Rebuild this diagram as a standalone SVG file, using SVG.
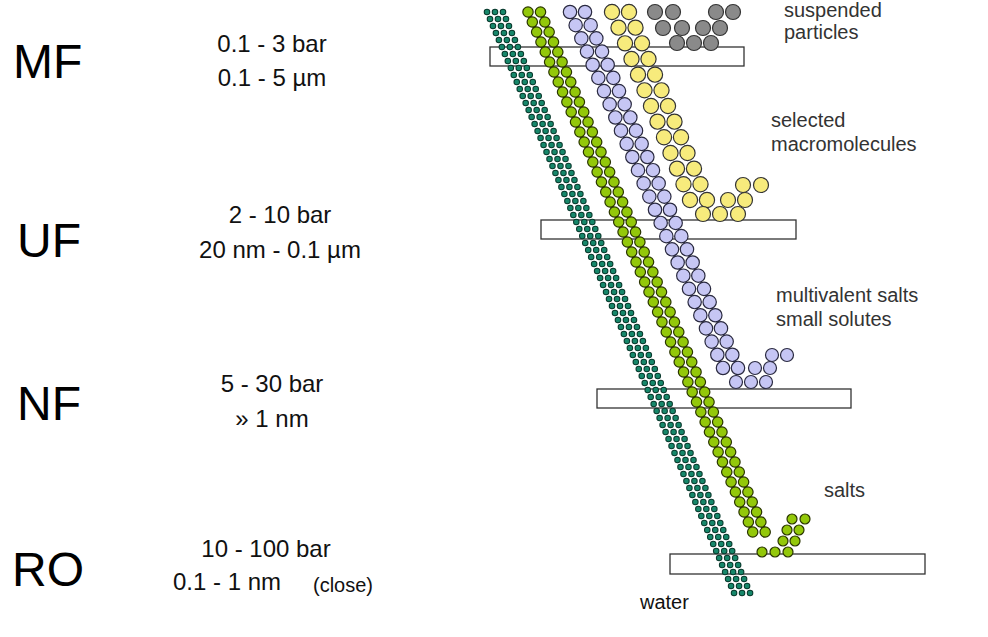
<svg xmlns="http://www.w3.org/2000/svg" width="988" height="637" viewBox="0 0 988 637">
<style>
.big{font-family:"Liberation Sans",Arial,sans-serif;font-size:48px;fill:#000}
.mid{font-family:"Liberation Sans",Arial,sans-serif;font-size:24px;fill:#111;text-anchor:middle}
.lab{font-family:"Liberation Sans",Arial,sans-serif;font-size:20px;fill:#333}
.mem{fill:#fff;stroke:#333;stroke-width:1.3}
.d{stroke-linecap:round;fill:none}
</style>
<rect width="988" height="637" fill="#fff"/>
<g id="labels">
<text class="big" x="13" y="78">MF</text>
<text class="big" x="17" y="257">UF</text>
<text class="big" x="17" y="420">NF</text>
<text class="big" x="12" y="586">RO</text>
<text class="mid" x="272" y="52">0.1 - 3 bar</text>
<text class="mid" x="272" y="86">0.1 - 5 µm</text>
<text class="mid" x="280" y="223">2 - 10 bar</text>
<text class="mid" x="280" y="258">20 nm - 0.1 µm</text>
<text class="mid" x="272" y="392">5 - 30 bar</text>
<text class="mid" x="272" y="427">» 1 nm</text>
<text class="mid" x="266" y="557">10 - 100 bar</text>
<text x="173" y="590" style="font-family:'Liberation Sans',Arial,sans-serif;font-size:24px;fill:#111">0.1 - 1 nm</text>
<text x="313" y="592" style="font-family:'Liberation Sans',Arial,sans-serif;font-size:20px;fill:#111">(close)</text>
<text class="lab" x="784" y="17">suspended</text>
<text class="lab" x="784" y="39">particles</text>
<text class="lab" x="771" y="127">selected</text>
<text class="lab" x="771" y="151">macromolecules</text>
<text class="lab" x="776" y="302">multivalent salts</text>
<text class="lab" x="776" y="326">small solutes</text>
<text class="lab" x="824" y="497">salts</text>
<text class="lab" x="640" y="609" style="fill:#111">water</text>
</g>
<g id="membranes">
<rect class="mem" x="490" y="47" width="254" height="19"/>
<rect class="mem" x="541" y="220" width="255" height="19"/>
<rect class="mem" x="597" y="389" width="254" height="19"/>
<rect class="mem" x="670" y="554" width="255" height="20"/>
</g>
<g id="water">
<g class="d" stroke="#0b3b2e" stroke-width="6.6" stroke-dasharray="0 7.607">
<line x1="487" y1="12" x2="737" y2="600"/><line x1="495" y1="12" x2="745" y2="600"/><line x1="503" y1="12" x2="753" y2="600"/>
</g>
<g class="d" stroke="#16876a" stroke-width="4.6" stroke-dasharray="0 7.607">
<line x1="487" y1="12" x2="737" y2="600"/><line x1="495" y1="12" x2="745" y2="600"/><line x1="503" y1="12" x2="753" y2="600"/>
</g>
</g>
<g id="salts">
<g class="d" stroke="#2a3500" stroke-width="11.6" stroke-dasharray="0 10.894">
<line x1="528" y1="12" x2="757" y2="542"/><line x1="540.5" y1="12" x2="769.5" y2="542"/>
</g>
<g class="d" stroke="#93c80a" stroke-width="9.2" stroke-dasharray="0 10.894">
<line x1="528" y1="12" x2="757" y2="542"/><line x1="540.5" y1="12" x2="769.5" y2="542"/>
</g>
<g fill="#93c80a" stroke="#2a3500" stroke-width="1.2">
<circle cx="762" cy="552" r="5"/><circle cx="775" cy="552" r="5"/><circle cx="788" cy="552" r="5"/>
<circle cx="783" cy="541" r="5"/><circle cx="795" cy="541" r="5"/>
<circle cx="787" cy="530" r="5"/><circle cx="799" cy="530" r="5"/>
<circle cx="792" cy="519" r="5"/><circle cx="805" cy="519" r="5"/>
</g>
</g>
<g id="small-solutes">
<g class="d" stroke="#2a2a40" stroke-width="14.6" stroke-dasharray="0 14.35">
<line x1="570" y1="12" x2="723" y2="368"/><line x1="585" y1="12" x2="738" y2="368"/>
</g>
<g class="d" stroke="#c6c6f4" stroke-width="12.2" stroke-dasharray="0 14.35">
<line x1="570" y1="12" x2="723" y2="368"/><line x1="585" y1="12" x2="738" y2="368"/>
</g>
<g fill="#c6c6f4" stroke="#2a2a40" stroke-width="1.2">
<circle cx="736" cy="382" r="6.5"/><circle cx="751" cy="382" r="6.5"/><circle cx="766" cy="382" r="6.5"/>
<circle cx="755" cy="368" r="6.5"/><circle cx="770" cy="368" r="6.5"/>
<circle cx="772" cy="355" r="6.5"/><circle cx="787" cy="355" r="6.5"/>
</g>
</g>
<g id="macromolecules">
<g class="d" stroke="#333" stroke-width="16.4" stroke-dasharray="0 16.96">
<line x1="612" y1="12" x2="690" y2="200"/><line x1="629" y1="12" x2="707" y2="200"/>
</g>
<g class="d" stroke="#f7eb7c" stroke-width="14" stroke-dasharray="0 16.96">
<line x1="612" y1="12" x2="690" y2="200"/><line x1="629" y1="12" x2="707" y2="200"/>
</g>
<g fill="#f7eb7c" stroke="#333" stroke-width="1.2">
<circle cx="703" cy="214" r="7.5"/><circle cx="720" cy="214" r="7.5"/><circle cx="738" cy="214" r="7.5"/>
<circle cx="728" cy="200" r="7.5"/><circle cx="745" cy="200" r="7.5"/>
<circle cx="743" cy="185" r="7.5"/><circle cx="761" cy="185" r="7.5"/>
</g>
</g>
<g id="particles" fill="#8a8a8a" stroke="#333" stroke-width="1.2">
<circle cx="655" cy="12" r="7.5"/><circle cx="673" cy="12" r="7.5"/><circle cx="716" cy="12" r="7.5"/><circle cx="733" cy="12" r="7.5"/>
<circle cx="663" cy="28" r="7.5"/><circle cx="682" cy="28" r="7.5"/><circle cx="703" cy="28" r="7.5"/><circle cx="720" cy="28" r="7.5"/>
<circle cx="677" cy="43" r="7.5"/><circle cx="694" cy="43" r="7.5"/><circle cx="711" cy="43" r="7.5"/>
</g>
</svg>
